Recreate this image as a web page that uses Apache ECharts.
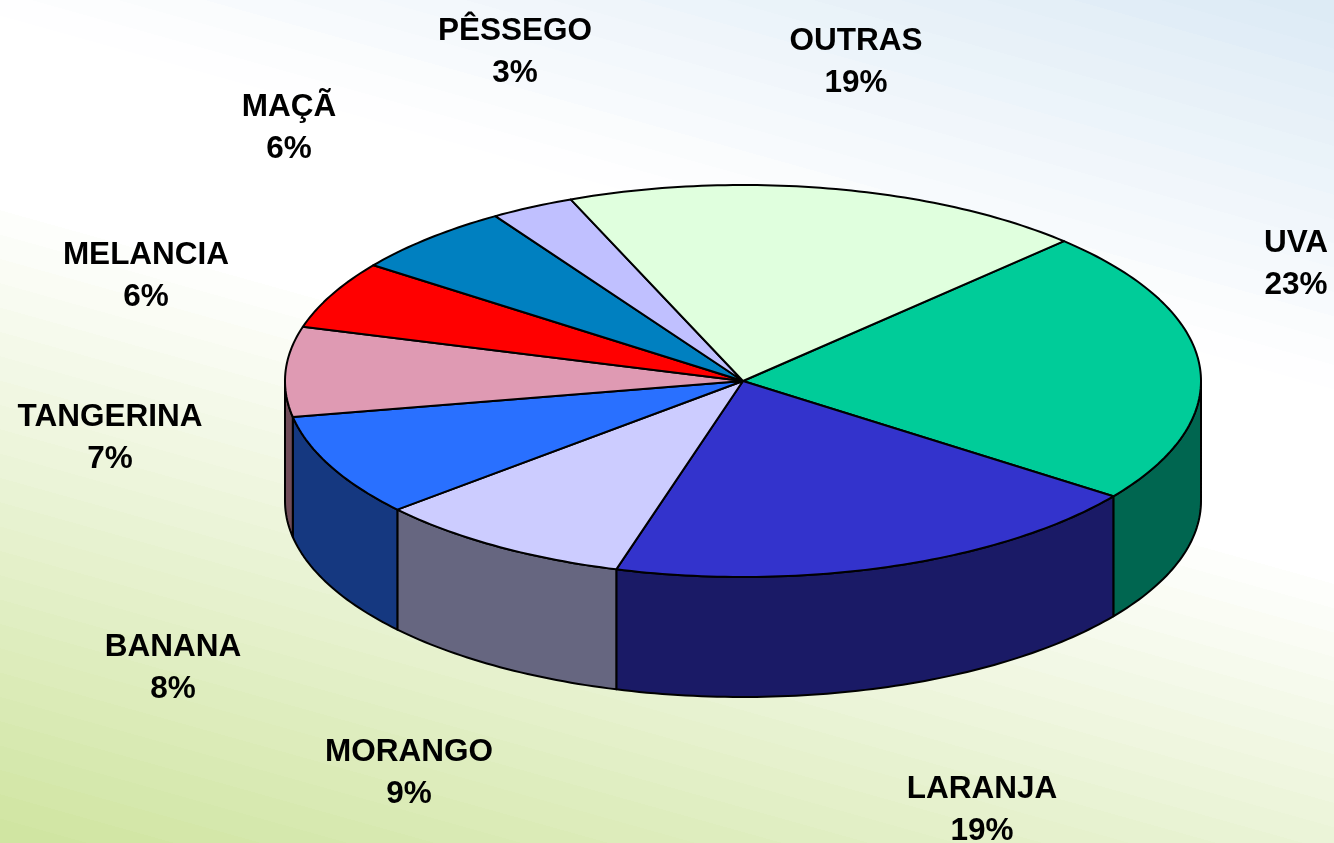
<!DOCTYPE html>
<html>
<head>
<meta charset="utf-8">
<style>html,body{margin:0;padding:0;width:100%;height:100%;overflow:hidden}#c{width:1334px;height:843px}</style>
<script src="https://cdn.jsdelivr.net/npm/echarts@6/dist/echarts.min.js"></script>
</head>
<body>
<div id="c"></div>
<script>
// ---- data ----
const categories = ['UVA','LARANJA','MORANGO','BANANA','TANGERINA','MELANCIA','MAÇÃ','PÊSSEGO','OUTRAS'];
const shares = [22.65,19.45,9.15,8.45,7.4,5.6,5.85,2.95,18.5];

// ---- styling and layout ----
const topColors  = ['#00CC99','#3333CC','#CCCCFF','#2970FF','#DF9AB3','#FF0000','#0080C0','#C0C0FF','#E0FFDE'];
const sideColors = ['#006650','#1A1A66','#666680','#153880','#704D59','#800000','#004060','#606080','#708070'];
const labelAnchors = [[1296,264],[982,810],[409,773],[173,668],[110,438],[146,276],[289,128],[515,52],[856,62]];
const pie = {cx:743, cy:381, rx:458, ry:196, depth:120, startDeg:-45.5};

const total = shares.reduce((a,b)=>a+b,0);
const sliceRange = i => {
  let before = 0;
  for (let k=0;k<i;k++) before += shares[k];
  const a = pie.startDeg + before/total*360;
  return [a, a + shares[i]/total*360];
};
const rad = d => d*Math.PI/180;
const rimPoint = (d, dy) => [pie.cx + pie.rx*Math.cos(rad(d)), pie.cy + pie.ry*Math.sin(rad(d)) + dy];
const arc = (a, b, dy) => {
  const n = Math.max(2, Math.ceil(Math.abs(b-a)));
  const pts = [];
  for (let k=0;k<=n;k++) pts.push(rimPoint(a+(b-a)*k/n, dy));
  return pts;
};
const outline = {stroke:'#000', lineWidth:2, lineJoin:'round'};

// background: banded diagonal wash, blue to white to green
const bandStops = [];
const mix = (p,q,f)=>p.map((v,i)=>Math.round(v+(q[i]-v)*f));
const colorAt = o => {
  const blue=[220,234,245], white=[255,255,255], green=[207,229,160];
  if (o<0.32) return mix(blue,white,o/0.32);
  if (o<0.47) return white;
  return mix(white,green,(o-0.47)/0.53);
};
const bands = 50;
for (let k=0;k<bands;k++){
  const c = colorAt((k+0.5)/bands), s='rgb('+c.join(',')+')';
  bandStops.push({offset:k/bands,color:s},{offset:(k+1)/bands,color:s});
}

const chart = echarts.init(document.getElementById('c'), null, {renderer:'canvas', width:1334, height:843});
const items = categories.map((n,i)=>({name:n, value:shares[i]}));

chart.setOption({
  animation:false,
  backgroundColor:{type:'linear', global:true, x:1334, y:0, x2:1018, y2:1128, colorStops:bandStops},
  series:[
    {
      type:'custom', name:'side', coordinateSystem:'none', silent:true, z:1, data:items,
      renderItem(params){
        const i = params.dataIndex, r = sliceRange(i);
        const a = Math.max(r[0],0), b = Math.min(r[1],180);
        if (b<=a) return {type:'group',children:[]};
        const pts = arc(a,b,0).concat(arc(b,a,pie.depth));
        return {type:'polygon', shape:{points:pts}, style:Object.assign({fill:sideColors[i]},outline)};
      }
    },
    {
      type:'custom', name:'top', coordinateSystem:'none', silent:true, z:2, data:items,
      renderItem(params){
        const i = params.dataIndex, r = sliceRange(i);
        const pts = [[pie.cx,pie.cy]].concat(arc(r[0],r[1],0));
        return {type:'polygon', shape:{points:pts}, style:Object.assign({fill:topColors[i]},outline)};
      }
    },
    {
      type:'custom', name:'labels', coordinateSystem:'none', silent:true, z:3, data:items,
      renderItem(params, api){
        const i = params.dataIndex, p = labelAnchors[i];
        return {type:'text', x:p[0], y:p[1], style:{
          text: categories[i]+'\n'+Math.round(api.value(0))+'%',
          fill:'#000', font:'bold 31.5px "Liberation Sans", Arial, sans-serif',
          lineHeight:42, align:'center', verticalAlign:'middle'
        }};
      }
    }
  ]
});
</script>
</body>
</html>
